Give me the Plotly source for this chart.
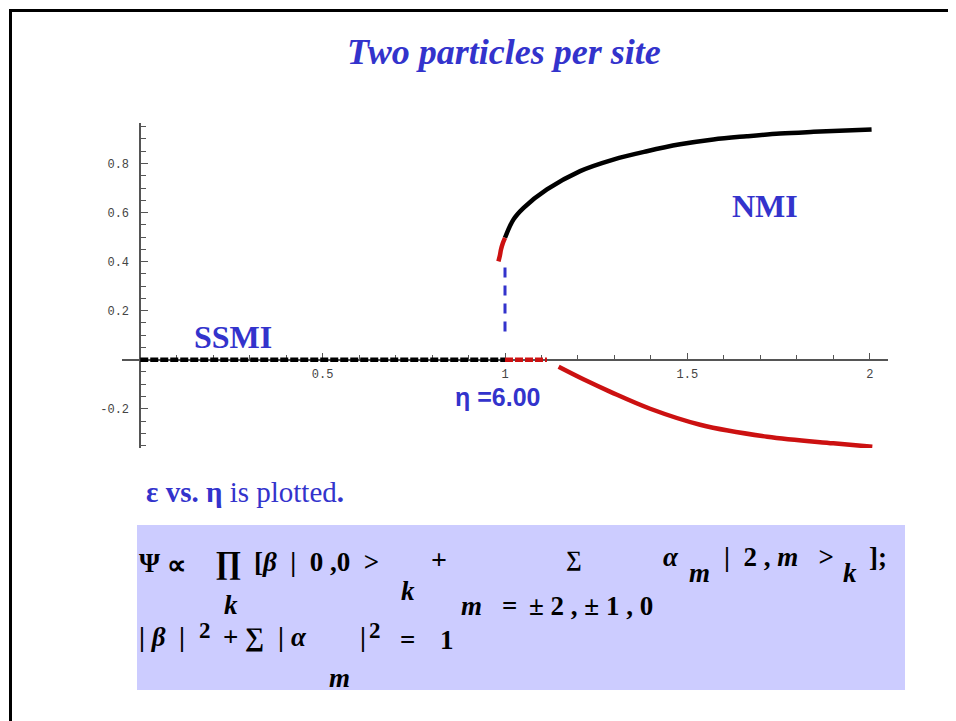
import plotly.graph_objects as go

# ---------------- data ----------------
ssmi_x = [0.0, 1.0]
ssmi_y = [0.0, 0.0]
unstable_zero_x = [1.0, 1.115]
unstable_zero_y = [0.0, 0.0]
upper_red_x = [0.982, 0.986, 0.989, 0.994, 1.0]
upper_red_y = [0.401, 0.425, 0.449, 0.475, 0.497]
nmi_x = [1.0, 1.023, 1.051, 1.115, 1.206, 1.297, 1.389, 1.480, 1.571, 1.663, 1.754, 1.846, 2.005]
nmi_y = [0.497, 0.571, 0.619, 0.694, 0.769, 0.816, 0.850, 0.878, 0.898, 0.911, 0.922, 0.929, 0.939]
lower_red_x = [1.147, 1.215, 1.289, 1.398, 1.535, 1.719, 1.900, 2.007]
lower_red_y = [-0.029, -0.080, -0.131, -0.200, -0.265, -0.314, -0.341, -0.355]
transition_x = [1.0, 1.0]
transition_y = [0.115, 0.40]

x_tickvals = [0.5, 1, 1.5, 2]
x_ticktext = ["0.5", "1", "1.5", "2"]
y_tickvals = [-0.2, 0.2, 0.4, 0.6, 0.8]
y_ticktext = ["-0.2", "0.2", "0.4", "0.6", "0.8"]

X_RANGE = [-0.05, 2.05]
Y_RANGE = [-0.36, 0.965]

W, H = 956, 721
OFF = 8  # page body margin of the html page
BLUE = "#3333CC"
RED = "#CC1111"


def PX(p):
    return (p - OFF) / W


def PY(p):
    return 1 - (p - OFF) / H


# plot area in pixels
xd = [PX(122), PX(888)]
yd = [PY(448), PY(123)]
# where the axes cross (origin) in paper coordinates
yaxis_pos = xd[0] + (0 - X_RANGE[0]) / (X_RANGE[1] - X_RANGE[0]) * (xd[1] - xd[0])
xaxis_pos = yd[0] + (0 - Y_RANGE[0]) / (Y_RANGE[1] - Y_RANGE[0]) * (yd[1] - yd[0])

fig = go.Figure()

fig.add_trace(go.Scatter(x=ssmi_x, y=ssmi_y, mode="lines",
                         line=dict(color="black", width=4.5, dash="8px,2px"),
                         showlegend=False, hoverinfo="skip"))
fig.add_trace(go.Scatter(x=unstable_zero_x, y=unstable_zero_y, mode="lines",
                         line=dict(color=RED, width=4.5, dash="8px,2px"),
                         showlegend=False, hoverinfo="skip"))
fig.add_trace(go.Scatter(x=transition_x, y=transition_y, mode="lines",
                         line=dict(color=BLUE, width=3, dash="10px,8px"),
                         showlegend=False, hoverinfo="skip"))
fig.add_trace(go.Scatter(x=nmi_x, y=nmi_y, mode="lines",
                         line=dict(color="black", width=4.5, shape="spline"),
                         showlegend=False, hoverinfo="skip"))
fig.add_trace(go.Scatter(x=upper_red_x, y=upper_red_y, mode="lines",
                         line=dict(color=RED, width=4.5, shape="spline"),
                         showlegend=False, hoverinfo="skip"))
fig.add_trace(go.Scatter(x=lower_red_x, y=lower_red_y, mode="lines",
                         line=dict(color=RED, width=4.5, shape="spline"),
                         showlegend=False, hoverinfo="skip"))

tickfont = dict(family="Liberation Mono", size=12, color="#444444")
fig.update_layout(
    width=W, height=H,
    margin=dict(l=0, r=0, t=0, b=0),
    paper_bgcolor="white", plot_bgcolor="white",
    xaxis=dict(domain=xd, range=X_RANGE, anchor="free", position=xaxis_pos, layer="below traces",
               showgrid=False, zeroline=False, showline=True, linecolor="#555555", linewidth=1.5,
               tickmode="array", tickvals=x_tickvals, ticktext=x_ticktext,
               ticks="inside", ticklen=6, tickwidth=1.2, tickcolor="#555555",
               ticklabelstandoff=3, tickfont=tickfont,
               minor=dict(ticks="inside", dtick=0.1, tick0=0, ticklen=3.5, tickwidth=1, tickcolor="#555555")),
    yaxis=dict(domain=yd, range=Y_RANGE, anchor="free", position=yaxis_pos, layer="below traces",
               showgrid=False, zeroline=False, showline=True, linecolor="#555555", linewidth=1.5,
               tickmode="array", tickvals=y_tickvals, ticktext=y_ticktext,
               ticks="inside", ticklen=7, tickwidth=1.2, tickcolor="#555555",
               ticklabelstandoff=8, tickfont=tickfont,
               minor=dict(ticks="inside", dtick=0.05, tick0=0, ticklen=5, tickwidth=1, tickcolor="#555555")),
)

shapes = [
    # slide border
    dict(type="line", xref="paper", yref="paper", x0=PX(9), x1=1.05, y0=PY(10.5), y1=PY(10.5),
         line=dict(color="black", width=3)),
    dict(type="line", xref="paper", yref="paper", x0=PX(10.5), x1=PX(10.5), y0=PY(9), y1=-0.05,
         line=dict(color="black", width=3)),
    # formula box
    dict(type="rect", xref="paper", yref="paper", x0=PX(137), x1=PX(905), y0=PY(690), y1=PY(525),
         fillcolor="#CCCCFF", line=dict(width=0), layer="below"),
]
fig.update_layout(shapes=shapes)

SERIF = "Liberation Serif"


def ann(text, x, y, size, color="black", xanchor="left", family=SERIF):
    return dict(text=text, x=PX(x), y=PY(y), xref="paper", yref="paper",
                xanchor=xanchor, yanchor="middle", showarrow=False,
                font=dict(family=family, size=size, color=color))


annotations = [
    ann("<b><i>Two particles per site</i></b>", 504, 52, 36, BLUE, "center"),
    ann("<b>SSMI</b>", 233, 337, 32, BLUE, "center"),
    ann("<b>NMI</b>", 765, 206, 32, BLUE, "center"),
    ann("<b>η =6.00</b>", 497, 397, 25, BLUE, "center", "Liberation Sans"),
    ann("<b>ε vs. η</b> is plotted<b>.</b>", 144, 492, 29, BLUE),
    # formula line 1
    ann("<b>Ψ</b>", 137, 563, 27),
    ann("<b>∝</b>", 165, 565, 27),
    ann("<b>∏</b>", 213, 562, 32),
    ann("<b><i>k</i></b>", 222, 605, 27),
    ann("<b>[<i>β</i>  |  0 ,0  ></b>", 252, 562, 27),
    ann("<b><i>k</i></b>", 399, 591, 27),
    ann("<b>+</b>", 429, 559, 28),
    ann("<b>∑</b>", 564, 558, 22),
    ann("<b><i>m</i></b>", 459, 606, 27),
    ann("<b>=</b>", 500, 606, 27),
    ann("<b>± 2 , ± 1 , 0</b>", 527, 606, 27),
    ann("<b><i>α</i></b>", 661, 557, 27),
    ann("<b><i>m</i></b>", 687, 573, 27),
    ann("<b>|  2 , <i>m</i>   ></b>", 722, 557, 27),
    ann("<b><i>k</i></b>", 841, 573, 27),
    ann("<b>];</b>", 867, 557, 27),
    # formula line 2
    ann("<b>| <i>β</i>  |</b>", 137, 637, 27),
    ann("<b>2</b>", 197, 630, 23),
    ann("<b>+</b>", 221, 637, 27),
    ann("<b>∑</b>", 243, 637, 27),
    ann("<b>|</b>", 276, 637, 27),
    ann("<b><i>α</i></b>", 289, 637, 27),
    ann("<b><i>m</i></b>", 327, 678, 27),
    ann("<b>|</b>", 358, 637, 27),
    ann("<b>2</b>", 367, 630, 23),
    ann("<b>=</b>", 398, 640, 27),
    ann("<b>1</b>", 438, 640, 27),
]
fig.update_layout(annotations=annotations)

fig.write_html("out.html")
